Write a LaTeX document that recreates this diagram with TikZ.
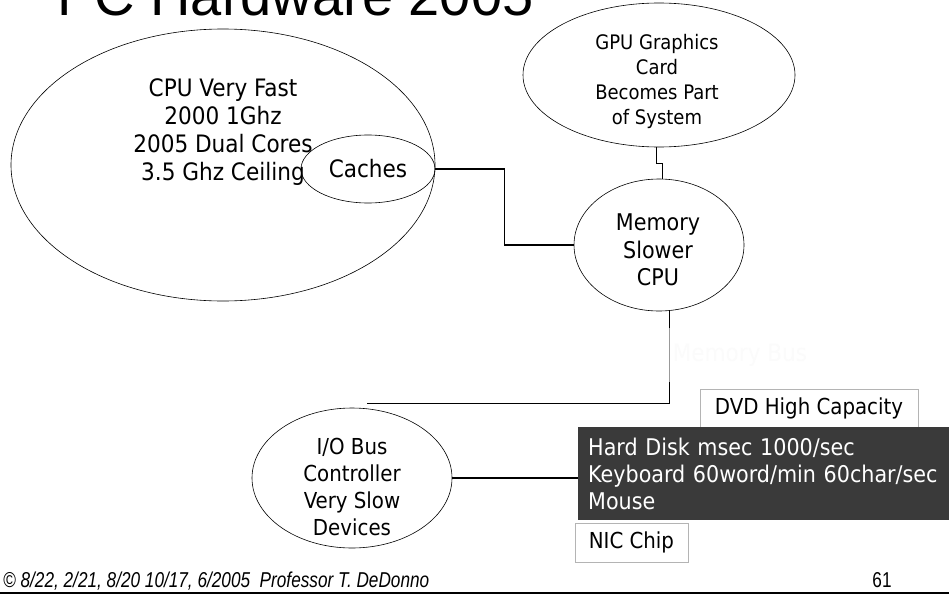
\documentclass[tikz,border=0pt]{standalone}
\usepackage{fontspec}
\setmainfont{DejaVu Sans Condensed}
\newfontfamily\titlefont{Liberation Sans}
\newfontfamily\footfont[FakeStretch=0.8]{Liberation Sans}
\usetikzlibrary{shapes.geometric,calc}

\definecolor{darkbox}{HTML}{3A3A3A}
\definecolor{tagline}{HTML}{B4B4B4}

\begin{document}
\begin{tikzpicture}[
  x=1pt,
  y=-1pt,
  blob/.style={
    draw,
    ellipse,
    line width=0.6pt,
    inner sep=0pt
  },
  blob text/.style={
    align=center,
    inner sep=0pt,
    font=\fontsize{24}{28}\selectfont
  },
  tag box/.style={
    draw=tagline,
    fill=white,
    line width=0.7pt,
    inner sep=0pt,
    font=\fontsize{22}{26}\selectfont
  },
  bus line/.style={
    line width=1.6pt
  },
  thin line/.style={
    line width=0.8pt
  },
]
\clip (0,0) rectangle (949,594);

\node[anchor=base west, inner sep=0pt, font=\titlefont\fontsize{56}{60}\selectfont] (title) at (57,16) {PC Hardware 2005};

% processor side
\node[blob, minimum width=424, minimum height=272] (cpu) at (223,165) {};
\node[blob text] (cputext) at (223,132) {CPU Very Fast\\2000 1Ghz\\2005 Dual Cores\\3.5 Ghz Ceiling};
\node[blob, minimum width=134, minimum height=68, font=\fontsize{24}{28}\selectfont] (cache) at (368,169) {Caches};

\node[blob, minimum width=272, minimum height=144] (gpu) at (659,75) {};
\node[blob text, font=\fontsize{20}{25}\selectfont] (gputext) at (657,81) {GPU Graphics\\Card\\Becomes Part\\of System};

\node[blob, minimum width=170, minimum height=132] (mem) at (659,245) {};
\node[blob text, font=\fontsize{23}{27.5}\selectfont] (memtext) at (658,250) {Memory\\Slower\\CPU};

\node[blob, minimum width=200, minimum height=140] (io) at (352,478) {};
\node[blob text, font=\fontsize{22}{27}\selectfont] (iotext) at (352,487) {I/O Bus\\Controller\\Very Slow\\Devices};

% devices
\node[tag box, minimum width=218, minimum height=38] (dvd) at (809,408.5) {DVD High Capacity};
\node[fill=darkbox, text=white, anchor=north west, align=left, text width=372,
  inner xsep=10pt, inner ysep=0pt, minimum height=93,
  font=\fontsize{23}{27}\selectfont] (devices) at (578,427)
  {Hard Disk msec 1000/sec\\Keyboard 60word/min 60char/sec\\Mouse};
\node[tag box, minimum width=113, minimum height=39] (nic) at (631.5,542.5) {NIC Chip};

% buses
\draw[bus line] (cache.east) -| ($(cache.east)!.5!(mem.west)$) |- (mem.west);
\draw[thin line] (gpu.-92) -- ++(0,16) -| (mem.87);
\coordinate (iotop) at (367,403);
\draw[thin line] (mem.-81) |- (iotop);
\draw[bus line] (io.east) -- (io.east -| devices.west);

\node[fill=white, fill opacity=0.6, text opacity=1, text=black!1.5, minimum height=54,
  inner xsep=7pt, font=\fontsize{24}{28}\selectfont] (membus) at (740,355) {Memory Bus};

% footer
\node[anchor=base west, inner sep=0pt, font=\footfont\itshape\fontsize{21.5}{25}\selectfont] (credit) at (3,587)
  {© 8/22, 2/21, 8/20 10/17, 6/2005\ \ Professor T. DeDonno};
\node[anchor=base, inner sep=0pt, font=\footfont\fontsize{21.5}{25}\selectfont] (pageno) at (882,587) {61};
\draw[line width=2pt] (0,592.5) -- (949,592.5);
\end{tikzpicture}
\end{document}
